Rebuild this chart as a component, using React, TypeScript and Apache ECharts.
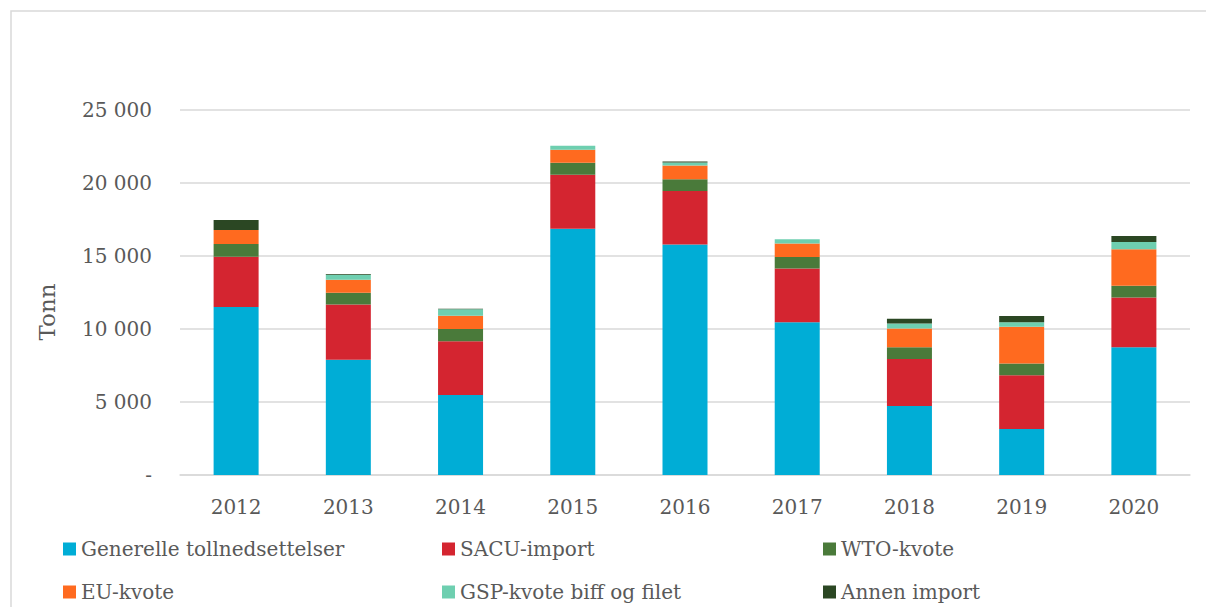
import React, { useEffect, useRef } from "react";
import * as echarts from "echarts";

const years = ["2012", "2013", "2014", "2015", "2016", "2017", "2018", "2019", "2020"];
const generelle = [11500, 7900, 5480, 16870, 15780, 10460, 4730, 3150, 8750];
const sacu = [3450, 3770, 3680, 3700, 3680, 3680, 3220, 3680, 3400];
const wto = [870, 820, 845, 820, 800, 800, 800, 800, 820];
const eu = [960, 890, 910, 890, 935, 915, 1280, 2530, 2490];
const gsp = [0, 340, 435, 275, 205, 300, 345, 300, 500];
const annen = [690, 50, 45, 0, 70, 0, 320, 430, 410];

const seriesNames = [
  "Generelle tollnedsettelser",
  "SACU-import",
  "WTO-kvote",
  "EU-kvote",
  "GSP-kvote biff og filet",
  "Annen import",
];
const seriesData = [generelle, sacu, wto, eu, gsp, annen];
const colors = ["#00ADD6", "#D42530", "#4A7A3A", "#FF6A1F", "#6ECFB0", "#2B4723"];

const FONT = "DejaVu Serif";
const TEXT = "#595959";

export default function App() {
  const ref = useRef<HTMLDivElement>(null);
  useEffect(() => {
    if (!ref.current) return;
    const chart = echarts.init(ref.current, undefined, { renderer: "svg" });
    const legendPos = [
      [63, 539],
      [442, 539],
      [823, 539],
      [63, 582],
      [442, 582],
      [823, 582],
    ];
    chart.setOption({
      animation: false,
      backgroundColor: "#ffffff",
      color: colors,
      textStyle: { fontFamily: FONT },
      grid: { left: 180, right: 16, top: 110, bottom: 132, containLabel: false },
      legend: seriesNames.map((n, i) => ({
        data: [n],
        left: legendPos[i][0],
        top: legendPos[i][1],
        icon: "rect",
        itemWidth: 13,
        itemHeight: 13,
        itemGap: 4,
        padding: 0,
        textStyle: { fontFamily: FONT, fontSize: 20, color: TEXT },
      })),
      xAxis: {
        type: "category",
        data: years,
        axisLine: { lineStyle: { color: "#d9d9d9", width: 1.5 } },
        axisTick: { show: false },
        axisLabel: { fontFamily: FONT, fontSize: 20, color: TEXT, margin: 22 },
      },
      yAxis: {
        type: "value",
        min: 0,
        max: 25000,
        interval: 5000,
        axisLine: { show: false },
        axisTick: { show: false },
        splitLine: { lineStyle: { color: "#d9d9d9", width: 1.5 } },
        axisLabel: {
          fontFamily: FONT,
          fontSize: 20,
          color: TEXT,
          margin: 28,
          formatter: (v: number) =>
            v === 0 ? "-" : String(v).replace(/\B(?=(\d{3})+(?!\d))/g, " "),
        },
      },
      graphic: [
        {
          type: "rect",
          shape: { x: 11, y: 11, width: 1300, height: 700 },
          style: { fill: "none", stroke: "#d9d9d9", lineWidth: 1.5 },
          silent: true,
        },
        {
          type: "text",
          x: 47,
          y: 312,
          rotation: Math.PI / 2,
          style: {
            text: "Tonn",
            fill: TEXT,
            font: `23px "${FONT}"`,
            align: "center",
            verticalAlign: "middle",
          },
          silent: true,
        },
      ],
      series: seriesNames.map((n, i) => ({
        name: n,
        type: "bar",
        stack: "total",
        barWidth: 45,
        data: seriesData[i],
        itemStyle: { color: colors[i] },
      })),
    });
    return () => chart.dispose();
  }, []);
  return (
    <div
      ref={ref}
      style={{ position: "fixed", left: 0, top: 0, width: 1206, height: 607 }}
    />
  );
}
